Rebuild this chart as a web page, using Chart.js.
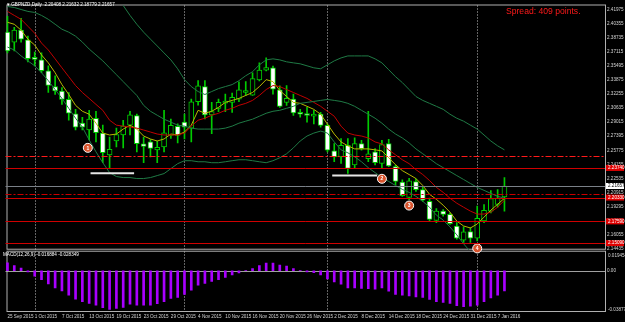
<!DOCTYPE html>
<html>
<head>
<meta charset="utf-8">
<script src="https://cdn.jsdelivr.net/npm/chart.js@4.4.1/dist/chart.umd.min.js"></script>
<style>
  html, body { margin: 0; padding: 0; background: #000; }
  #wrap { position: relative; width: 625px; height: 322px; overflow: hidden; background: #000; }
  #c { position: absolute; left: 0; top: 0; }
  .txt { position: absolute; white-space: nowrap; font-family: "Liberation Sans", Arial, sans-serif; }
  #header { left: 7px; top: 2px; font-size: 4.6px; color: #fff; }
  #spread { left: 506px; top: 6px; font-size: 8.6px; color: #ff1a1a; }
  #macdName { left: 3px; top: 252px; font-size: 4.6px; color: #fff; }
</style>
</head>
<body>
<div id="wrap">
  <canvas id="c" width="625" height="322"></canvas>
  <div class="txt" id="header">&#9662; GBPNZD,Daily&nbsp; 2.20408 2.21632 2.18779 2.21657</div>
  <div class="txt" id="spread">Spread: 409 points.</div>
  <div class="txt" id="macdName">MACD(12,26,9) -0.016884 -0.028349</div>
</div>
<script>
// daily GBPNZD, 25 Sep 2015 .. 8 Jan 2016 (index = trading day)
const opens = [2.3936, 2.3822, 2.3959, 2.3848, 2.3640, 2.3617, 2.3492, 2.3310, 2.3259, 2.3162,
  2.2997, 2.2889, 2.2810, 2.2946, 2.2775, 2.2525, 2.2684, 2.2753, 2.2866, 2.2975,
  2.2650, 2.2673, 2.2582, 2.2616, 2.2747, 2.2852, 2.2901, 2.2832, 2.3136, 2.3310,
  2.2984, 2.3060, 2.3120, 2.3128, 2.3166, 2.3242, 2.3211, 2.3386, 2.3500, 2.3526,
  2.3273, 2.3128, 2.3166, 2.3003, 2.2995, 2.2969, 2.2995, 2.2863, 2.2571, 2.2502,
  2.2635, 2.2408, 2.2654, 2.2480, 2.2559, 2.2426, 2.2654, 2.2389, 2.2210, 2.2036,
  2.2218, 2.2124, 2.1990, 2.1771, 2.1877, 2.1839, 2.1706, 2.1543, 2.1641, 2.1566,
  2.1763, 2.1877, 2.1953, 2.20408];
const highs = [2.4118, 2.3993, 2.4095, 2.3890, 2.3708, 2.3697, 2.3549, 2.3435, 2.3299, 2.3242,
  2.3048, 2.2957, 2.3037, 2.3026, 2.2866, 2.2730, 2.2832, 2.2923, 2.3026, 2.2995,
  2.2730, 2.2701, 2.2684, 2.3037, 2.2935, 2.2881, 2.2995, 2.3166, 2.3378, 2.3378,
  2.3128, 2.3166, 2.3223, 2.3234, 2.3364, 2.3367, 2.3469, 2.3583, 2.3640, 2.3546,
  2.3318, 2.3322, 2.3223, 2.3048, 2.3071, 2.3037, 2.3014, 2.2881, 2.2654, 2.2711,
  2.2711, 2.2719, 2.2692, 2.3026, 2.2597, 2.2692, 2.2704, 2.2408, 2.2237, 2.2255,
  2.2249, 2.2161, 2.2028, 2.1907, 2.1896, 2.1857, 2.1744, 2.1695, 2.1687, 2.1934,
  2.1953, 2.2112, 2.2124, 2.22632];
const lows = [2.3697, 2.3720, 2.3822, 2.3595, 2.3549, 2.3469, 2.3242, 2.3219, 2.3105, 2.2923,
  2.2810, 2.2810, 2.2696, 2.2673, 2.2434, 2.2366, 2.2616, 2.2605, 2.2753, 2.2559,
  2.2434, 2.2502, 2.2434, 2.2559, 2.2713, 2.2662, 2.2707, 2.2673, 2.3097, 2.2938,
  2.2767, 2.3022, 2.3022, 2.3014, 2.3136, 2.3208, 2.3208, 2.3375, 2.3489, 2.3223,
  2.3071, 2.3094, 2.2977, 2.2957, 2.2901, 2.2881, 2.2844, 2.2559, 2.2445, 2.2426,
  2.2312, 2.2369, 2.2579, 2.2445, 2.2408, 2.2369, 2.2389, 2.2180, 2.2047, 2.2010,
  2.2104, 2.1990, 2.1763, 2.1744, 2.1820, 2.1725, 2.1555, 2.1516, 2.1516, 2.1535,
  2.1744, 2.1857, 2.1922, 2.18779];
const closes = [2.3720, 2.3959, 2.3856, 2.3632, 2.3623, 2.3492, 2.3322, 2.3259, 2.3162, 2.3003,
  2.2844, 2.2844, 2.2935, 2.2781, 2.2551, 2.2588, 2.2758, 2.2855, 2.2986, 2.2654,
  2.2622, 2.2599, 2.2610, 2.2779, 2.2863, 2.2749, 2.2844, 2.3136, 2.3318, 2.2984,
  2.3022, 2.3128, 2.3136, 2.3185, 2.3273, 2.3253, 2.3401, 2.3500, 2.3530, 2.3279,
  2.3083, 2.3174, 2.3006, 2.2992, 2.2977, 2.2995, 2.2863, 2.2579, 2.2502, 2.2635,
  2.2369, 2.2654, 2.2597, 2.2537, 2.2434, 2.2642, 2.2397, 2.2218, 2.2055, 2.2226,
  2.2124, 2.2002, 2.1782, 2.1877, 2.1839, 2.1732, 2.1566, 2.1638, 2.1566, 2.1794,
  2.1885, 2.2021, 2.2028, 2.21657];

const fastMa = [2.4050, 2.4027, 2.3959, 2.3856, 2.3788, 2.3674, 2.3583, 2.3469, 2.3333, 2.3219,
  2.3094, 2.3026, 2.2992, 2.2889, 2.2775, 2.2753, 2.2764, 2.2821, 2.2866, 2.2821,
  2.2741, 2.2707, 2.2684, 2.2707, 2.2764, 2.2753, 2.2787, 2.2866, 2.3037, 2.3003,
  2.3026, 2.3071, 2.3128, 2.3151, 2.3174, 2.3208, 2.3242, 2.3310, 2.3390, 2.3367,
  2.3265, 2.3196, 2.3128, 2.3117, 2.3083, 2.3048, 2.2992, 2.2878, 2.2764, 2.2673,
  2.2628, 2.2593, 2.2593, 2.2593, 2.2582, 2.2570, 2.2491, 2.2411, 2.2343, 2.2298,
  2.2252, 2.2172, 2.2070, 2.2013, 2.1945, 2.1865, 2.1763, 2.1706, 2.1683, 2.1729,
  2.1808, 2.1888, 2.1956, 2.2025];
const slowMa = [2.4175, 2.4129, 2.4084, 2.4004, 2.3924, 2.3811, 2.3731, 2.3629, 2.3526, 2.3424,
  2.3322, 2.3242, 2.3174, 2.3105, 2.3037, 2.2923, 2.2866, 2.2855, 2.2844, 2.2832,
  2.2810, 2.2787, 2.2764, 2.2753, 2.2753, 2.2753, 2.2775, 2.2855, 2.2923, 2.2946,
  2.2980, 2.3003, 2.3037, 2.3060, 2.3094, 2.3117, 2.3151, 2.3208, 2.3276, 2.3322,
  2.3310, 2.3276, 2.3242, 2.3208, 2.3174, 2.3128, 2.3083, 2.3026, 2.2969, 2.2855,
  2.2775, 2.2753, 2.2741, 2.2719, 2.2673, 2.2650, 2.2582, 2.2525, 2.2468, 2.2423,
  2.2354, 2.2298, 2.2229, 2.2150, 2.2093, 2.2025, 2.1968, 2.1922, 2.1877, 2.1843,
  2.1843, 2.1865, 2.1922, 2.2002];
const bandUpper = [null, null, null, null, null, null, null, null, null, null,
  null, null, null, null, null, 2.4450, 2.4357, 2.4243, 2.4129, 2.4027,
  2.3936, 2.3856, 2.3777, 2.3697, 2.3617, 2.3515, 2.3390, 2.3310, 2.3253, 2.3219,
  2.3253, 2.3287, 2.3310, 2.3333, 2.3378, 2.3435, 2.3481, 2.3560, 2.3617, 2.3629,
  2.3617, 2.3595, 2.3583, 2.3572, 2.3549, 2.3526, 2.3515, 2.3560, 2.3606, 2.3640,
  2.3663, 2.3663, 2.3663, 2.3663, 2.3629, 2.3583, 2.3504, 2.3424, 2.3356, 2.3276,
  2.3196, 2.3151, 2.3117, 2.3083, 2.3048, 2.2992, 2.2946, 2.2912, 2.2866, 2.2821,
  2.2753, 2.2684, 2.2628, 2.2582];
const bandMiddle = [2.4232, 2.4220, 2.4197, 2.4175, 2.4163, 2.4129, 2.4084, 2.4027, 2.3970, 2.3936,
  2.3890, 2.3822, 2.3742, 2.3674, 2.3606, 2.3526, 2.3447, 2.3367, 2.3287, 2.3208,
  2.3094, 2.3026, 2.2980, 2.2935, 2.2901, 2.2866, 2.2855, 2.2832, 2.2821, 2.2821,
  2.2821, 2.2821, 2.2832, 2.2855, 2.2889, 2.2912, 2.2935, 2.2969, 2.3003, 2.3026,
  2.3037, 2.3060, 2.3083, 2.3117, 2.3128, 2.3139, 2.3151, 2.3162, 2.3151, 2.3139,
  2.3117, 2.3083, 2.3037, 2.2992, 2.2946, 2.2889, 2.2821, 2.2764, 2.2719, 2.2662,
  2.2593, 2.2537, 2.2480, 2.2423, 2.2377, 2.2332, 2.2286, 2.2241, 2.2195, 2.2150,
  2.2116, 2.2081, 2.2047, 2.2025];
const bandLower = [2.3765, 2.3731, 2.3663, 2.3606, 2.3549, 2.3469, 2.3378, 2.3276, 2.3174, 2.3060,
  2.2946, 2.2844, 2.2696, 2.2559, 2.2434, 2.2320, 2.2275, 2.2263, 2.2263, 2.2252,
  2.2252, 2.2263, 2.2286, 2.2309, 2.2366, 2.2423, 2.2457, 2.2457, 2.2445, 2.2445,
  2.2434, 2.2434, 2.2445, 2.2457, 2.2468, 2.2468, 2.2457, 2.2445, 2.2434, 2.2457,
  2.2491, 2.2537, 2.2605, 2.2684, 2.2741, 2.2775, 2.2798, 2.2775, 2.2673, 2.2582,
  2.2548, 2.2502, 2.2445, 2.2377, 2.2320, 2.2263, 2.2218, 2.2172, 2.2127, 2.2093,
  2.2047, 2.1990, 2.1922, 2.1831, 2.1774, 2.1695, 2.1604, 2.1501, 2.1410, 2.1331,
  null, null, null, null];

const macdHist = [0.0081, 0.0054, 0.0027, -0.0013, -0.0054, -0.0091, -0.0134, -0.0175, -0.0205, -0.0249,
  -0.0290, -0.0316, -0.0333, -0.0350, -0.0377, -0.0394, -0.0384, -0.0374, -0.0340, -0.0350,
  -0.0350, -0.0350, -0.0336, -0.0316, -0.0283, -0.0273, -0.0242, -0.0199, -0.0148, -0.0128,
  -0.0108, -0.0091, -0.0068, -0.0043, -0.0023, 0.0003, 0.0023, 0.0054, 0.0078, 0.0078,
  0.0058, 0.0047, 0.0023, 0.0003, -0.0013, -0.0020, -0.0043, -0.0084, -0.0114, -0.0138,
  -0.0175, -0.0175, -0.0179, -0.0182, -0.0189, -0.0175, -0.0209, -0.0242, -0.0249, -0.0256,
  -0.0266, -0.0273, -0.0293, -0.0316, -0.0323, -0.0333, -0.0357, -0.0367, -0.0361, -0.0350,
  -0.0316, -0.0276, -0.0249, -0.0205];

const dateTickIdx = [0, 4, 8, 12, 16, 20, 24, 28, 32, 36, 40, 44, 48, 52, 56, 60, 64, 68, 72];
const dateLabels = ['25 Sep 2015', '1 Oct 2015', '7 Oct 2015', '13 Oct 2015', '19 Oct 2015', '23 Oct 2015',
  '29 Oct 2015', '4 Nov 2015', '10 Nov 2015', '16 Nov 2015', '20 Nov 2015', '26 Nov 2015', '2 Dec 2015',
  '8 Dec 2015', '14 Dec 2015', '18 Dec 2015', '24 Dec 2015', '31 Dec 2015', '7 Jan 2016'];
const monthStarts = [4, 26, 47, 69];

const priceTicks = [2.41975, 2.40355, 2.38735, 2.37115, 2.35495, 2.33875, 2.32255, 2.30635, 2.29015,
  2.27395, 2.25775, 2.24155, 2.22535, 2.20915, 2.19295, 2.17675, 2.16055, 2.14435];
const macdScaleLabels = ['0.019454', '0.00', '-0.038773'];

const dashDotLevels = [2.2514, 2.2074];
const solidLevels = [2.2374, 2.2033, 2.1759, 2.1509];

const waveNames = ['1', '2', '3', '4'];
const waveX = [11.8, 55, 59, 69];
const wavePrice = [2.2605, 2.2249, 2.1941, 2.1448];

const markLines = [
  {from: 12.2, to: 18.6, price: 2.2312},
  {from: 47.7, to: 54.3, price: 2.2286}
];

const GREEN = '#00cc00';
const AXIS_TXT = '#d4d4d4';
const FRAME = '#b0b0b0';

Chart.defaults.font.family = '"Liberation Sans", Arial, sans-serif';
Chart.defaults.font.size = 4.6;

const overlay = {
  id: 'overlay',
  beforeDatasetsDraw(chart) {
    const {ctx, chartArea, scales: {x, y, y2}} = chart;
    ctx.save();
    ctx.lineWidth = 1;
    // month separators
    ctx.strokeStyle = '#c8c8c8';
    ctx.setLineDash([1, 2]);
    monthStarts.forEach(i => {
      const px = Math.round(x.getPixelForValue(i)) + 0.5;
      ctx.beginPath();
      ctx.moveTo(px, chartArea.top);
      ctx.lineTo(px, chartArea.bottom);
      ctx.stroke();
    });
    ctx.setLineDash([]);
    // macd zero line
    const z = Math.round(y2.getPixelForValue(0)) + 0.5;
    ctx.strokeStyle = '#a0a0a0';
    ctx.beginPath();
    ctx.moveTo(chartArea.left, z);
    ctx.lineTo(chartArea.right, z);
    ctx.stroke();
    // frame
    ctx.strokeStyle = FRAME;
    ctx.strokeRect(chartArea.left + 1.5, y.top - 0.5, chartArea.right - chartArea.left - 1, y.bottom - y.top);
    ctx.strokeRect(chartArea.left + 1.5, y2.top + 1.5, chartArea.right - chartArea.left - 1, y2.bottom - y2.top - 2);
    ctx.restore();
  },
  afterDatasetsDraw(chart) {
    const {ctx, chartArea, scales: {y, y2}} = chart;
    ctx.save();
    ctx.lineWidth = 1;
    const lx = chartArea.left, rx = chartArea.right;
    dashDotLevels.forEach((p, i) => {
      const py = Math.round(y.getPixelForValue(p)) + 0.5;
      ctx.strokeStyle = i === 0 ? '#ff1a1a' : '#c80000';
      ctx.setLineDash([6, 2, 2, 2]);
      ctx.beginPath(); ctx.moveTo(lx, py); ctx.lineTo(rx, py); ctx.stroke();
    });
    ctx.setLineDash([]);
    solidLevels.forEach(p => {
      const py = Math.round(y.getPixelForValue(p)) + 0.5;
      ctx.strokeStyle = '#d00000';
      ctx.beginPath(); ctx.moveTo(lx, py); ctx.lineTo(rx, py); ctx.stroke();
    });
    // last price line
    const last = closes[closes.length - 1];
    const ly = Math.round(y.getPixelForValue(last)) + 0.5;
    ctx.strokeStyle = '#7a8088';
    ctx.beginPath(); ctx.moveTo(lx, ly); ctx.lineTo(rx, ly); ctx.stroke();

    // axis price boxes
    ctx.font = '4.6px "Liberation Sans", Arial, sans-serif';
    ctx.textBaseline = 'middle';
    ctx.textAlign = 'left';
    solidLevels.forEach(p => {
      const py = y.getPixelForValue(p);
      ctx.fillStyle = '#e00000';
      ctx.fillRect(rx + 1, py - 3, 18, 6);
      ctx.fillStyle = '#ffffff';
      ctx.fillText(p.toFixed(5), rx + 3, py);
    });
    ctx.fillStyle = '#ffffff';
    ctx.fillRect(rx + 1, ly - 3.5, 18, 6);
    ctx.fillStyle = '#000000';
    ctx.fillText(last.toFixed(5), rx + 3, ly - 0.5);

    // macd scale labels at panel edges
    ctx.fillStyle = AXIS_TXT;
    ctx.fillText(macdScaleLabels[0], rx + 3, y2.top + 6);
    ctx.fillText(macdScaleLabels[2], rx + 3, y2.bottom - 2);

    // wave numbers
    const meta = chart.getDatasetMeta(chart.data.datasets.findIndex(d => d.label === 'waves'));
    ctx.font = 'bold 5px "Liberation Sans", Arial, sans-serif';
    ctx.textAlign = 'center';
    ctx.fillStyle = '#ffffff';
    meta.data.forEach((pt, i) => ctx.fillText(waveNames[i], pt.x, pt.y + 0.3));
    ctx.restore();
  }
};

const line = (label, data, color) => ({
  type: 'line', label, yAxisID: 'y', order: -1,
  data: data.map((v, i) => ({x: i, y: v})),
  borderColor: color, borderWidth: 1, pointRadius: 0, tension: 0, spanGaps: false
});

new Chart(document.getElementById('c'), {
  type: 'bar',
  data: {
    datasets: [
      {
        label: 'wick', yAxisID: 'y', order: 2, grouped: false,
        data: lows.map((l, i) => ({x: i, y: [l, highs[i]]})),
        backgroundColor: GREEN, borderWidth: 0, barThickness: 1
      },
      {
        label: 'body', yAxisID: 'y', order: 1, grouped: false,
        data: opens.map((o, i) => ({x: i, y: [o, closes[i]]})),
        backgroundColor: opens.map((o, i) => closes[i] < o ? '#ffffff' : '#000000'),
        borderColor: GREEN, borderWidth: 1, borderSkipped: false, barThickness: 5, minBarLength: 2
      },
      line('band upper', bandUpper, '#1f7a45'),
      line('band middle', bandMiddle, '#1f7a45'),
      line('band lower', bandLower, '#1f7a45'),
      line('slow ma', slowMa, '#c00000'),
      line('fast ma', fastMa, '#b8b800'),
      ...markLines.map(m => ({
        type: 'line', label: 'mark', yAxisID: 'y', order: -2,
        data: [{x: m.from, y: m.price}, {x: m.to, y: m.price}],
        borderColor: '#e6e6e6', borderWidth: 2, pointRadius: 0
      })),
      {
        type: 'scatter', label: 'waves', yAxisID: 'y', order: -3, clip: false,
        data: waveX.map((v, i) => ({x: v, y: wavePrice[i]})),
        pointRadius: 4.5, backgroundColor: '#d9532c', borderColor: '#ffffff', borderWidth: 1
      },
      {
        label: 'macd', yAxisID: 'y2', order: 0, grouped: false,
        data: macdHist.map((v, i) => ({x: i, y: v})),
        backgroundColor: '#a800ff', borderWidth: 0, barThickness: 2
      }
    ]
  },
  options: {
    responsive: false,
    animation: false,
    events: [],
    layout: {padding: {top: 2, left: 0, right: 0, bottom: 0}},
    plugins: {legend: {display: false}, tooltip: {enabled: false}},
    scales: {
      x: {
        type: 'linear', min: -0.29, max: 87.77, offset: false,
        grid: {display: false, drawTicks: false}, border: {display: false},
        ticks: {
          color: AXIS_TXT, padding: 1.5, align: 'start', maxRotation: 0, autoSkip: false,
          callback: v => dateLabels[dateTickIdx.indexOf(v)]
        },
        afterBuildTicks: s => { s.ticks = dateTickIdx.map(v => ({value: v})); },
        afterFit: s => { s.height = 10; }
      },
      y: {
        type: 'linear', position: 'right', stack: 'panes', stackWeight: 247,
        min: 2.1433, max: 2.4243,
        grid: {display: false, drawTicks: false}, border: {display: false},
        ticks: {color: AXIS_TXT, padding: 2, autoSkip: false, callback: v => v.toFixed(5)},
        afterBuildTicks: s => { s.ticks = priceTicks.map(v => ({value: v})); },
        afterFit: s => { s.width = 20; }
      },
      y2: {
        type: 'linear', position: 'right', stack: 'panes', stackWeight: 63,
        min: -0.0421, max: 0.0215,
        grid: {display: false, drawTicks: false}, border: {display: false},
        ticks: {color: AXIS_TXT, padding: 2, autoSkip: false, callback: () => macdScaleLabels[1]},
        afterBuildTicks: s => { s.ticks = [{value: 0}]; },
        afterFit: s => { s.width = 20; }
      }
    }
  },
  plugins: [overlay]
});
</script>
</body>
</html>
